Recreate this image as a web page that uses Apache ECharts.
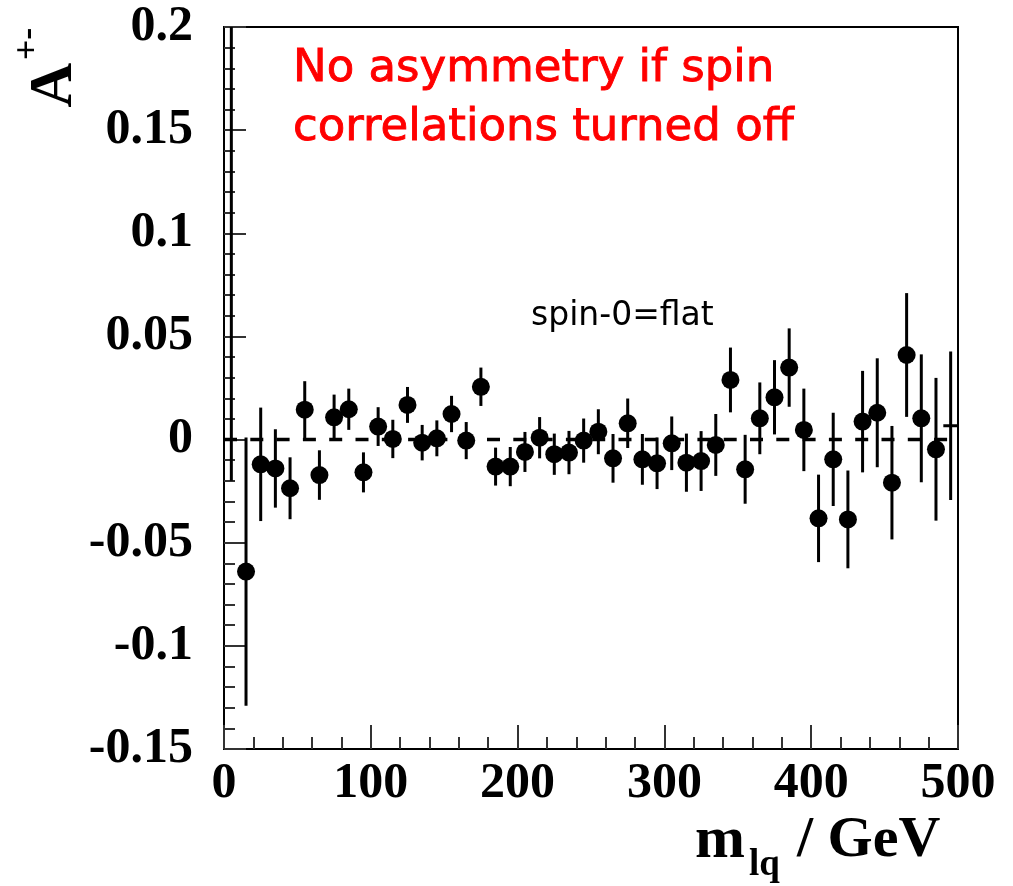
<!DOCTYPE html>
<html>
<head>
<meta charset="utf-8">
<script src="https://cdn.jsdelivr.net/npm/echarts@6/dist/echarts.min.js"></script>
<style>
html,body{margin:0;padding:0;background:#fff;}
#chart{width:1013px;height:886px;}
</style>
</head>
<body>
<div id="chart"></div>
<script>
// ---- data ----
const binCenters = [5,15,25,35,45,55,65,75,85,95,105,115,125,135,145,155,165,175,185,195,
  205,215,225,235,245,255,265,275,285,295,305,315,325,335,345,355,365,375,385,395,
  405,415,425,435,445,455,465,475,485,495];
const asymValues = [0.21,-0.064,-0.012,-0.014,-0.0236,0.0145,-0.0172,0.0108,0.0147,-0.0159,
  0.0063,0.0003,0.0168,-0.0015,0.0006,0.0124,-0.0005,0.0256,-0.0131,-0.0131,
  -0.006,0.0009,-0.0071,-0.0063,-0.0005,0.0038,-0.0091,0.0079,-0.0096,-0.0115,
  -0.0018,-0.0112,-0.0104,-0.0026,0.0289,-0.0144,0.0103,0.0205,0.0349,0.0047,
  -0.0382,-0.0096,-0.0387,0.0087,0.013,-0.0209,0.041,0.0103,-0.0047,0.0067];
const asymErrors = [0.23,0.065,0.0275,0.019,0.015,0.0138,0.012,0.011,0.010,0.0097,
  0.0094,0.0093,0.0087,0.0086,0.0087,0.0088,0.009,0.0093,0.0092,0.0095,
  0.0097,0.010,0.010,0.0105,0.0107,0.0109,0.0118,0.012,0.0123,0.0125,
  0.013,0.0141,0.0145,0.015,0.0157,0.0167,0.0174,0.018,0.019,0.020,
  0.0212,0.0226,0.0237,0.0246,0.0264,0.0275,0.030,0.031,0.0346,0.036];
const binHalfWidth = 5;
const noMarkerBins = [5, 495];
const referenceLine = [[0, 0], [500, 0]];
const xTickValues = [0, 100, 200, 300, 400, 500];
const xTickLabels = ['0', '100', '200', '300', '400', '500'];
const yTickValues = [-0.15, -0.1, -0.05, 0, 0.05, 0.1, 0.15, 0.2];
const yTickLabels = ['-0.15', '-0.1', '-0.05', '0', '0.05', '0.1', '0.15', '0.2'];
const annotation1 = ['No asymmetry if spin', 'correlations turned off'];
const annotation2 = 'spin-0=flat';

// ---- build ----
const X_MIN = 0, X_MAX = 500, Y_MIN = -0.15, Y_MAX = 0.2;
const errData = binCenters.map((x, i) => [x, asymValues[i], asymErrors[i]]);
const markerData = binCenters
  .map((x, i) => [x, asymValues[i]])
  .filter(d => noMarkerBins.indexOf(d[0]) < 0);

function lookup(vals, labels, v) {
  for (let i = 0; i < vals.length; i++) if (Math.abs(vals[i] - v) < 1e-9) return labels[i];
  return '';
}
const clampY = v => Math.max(Y_MIN, Math.min(Y_MAX, v));

const serifBold = { fontFamily: 'Liberation Serif', fontWeight: 'bold', color: '#000' };

const chart = echarts.init(document.getElementById('chart'), null, { renderer: 'canvas' });
chart.setOption({
  backgroundColor: '#fff',
  animation: false,
  grid: { left: 224, top: 27, right: 55, bottom: 137, show: true, borderColor: '#000', borderWidth: 2, containLabel: false },
  xAxis: {
    type: 'value', min: X_MIN, max: X_MAX, interval: 100,
    axisLine: { show: true, onZero: false, lineStyle: { color: '#000', width: 2 } },
    axisTick: { show: true, inside: true, length: 24, lineStyle: { color: '#333', width: 2 } },
    minorTick: { show: true, splitNumber: 5, length: 12, lineStyle: { color: '#333', width: 2 } },
    splitLine: { show: false },
    axisLabel: Object.assign({ fontSize: 50, margin: 10, formatter: v => lookup(xTickValues, xTickLabels, v) }, serifBold)
  },
  yAxis: {
    type: 'value', min: Y_MIN, max: Y_MAX, interval: 0.05,
    axisLine: { show: true, onZero: false, lineStyle: { color: '#000', width: 2 } },
    axisTick: { show: true, inside: true, length: 22, lineStyle: { color: '#333', width: 2 } },
    minorTick: { show: true, splitNumber: 5, length: 11, lineStyle: { color: '#333', width: 2 } },
    splitLine: { show: false },
    axisLabel: Object.assign({ fontSize: 50, margin: 31, formatter: v => lookup(yTickValues, yTickLabels, v) }, serifBold)
  },
  series: [
    {
      type: 'line', data: referenceLine, symbol: 'none', z: 1, silent: true,
      lineStyle: { color: '#000', width: 3.5, type: [13, 13.3], opacity: 1 }
    },
    {
      type: 'custom', data: errData, z: 2, silent: true,
      renderItem: function (params, api) {
        const x = api.value(0), y = api.value(1), e = api.value(2);
        const children = [];
        const top = api.coord([x, clampY(y + e)]);
        const bot = api.coord([x, clampY(y - e)]);
        children.push({ type: 'line', shape: { x1: top[0], y1: top[1], x2: bot[0], y2: bot[1] },
          style: { stroke: '#000', lineWidth: 3 } });
        if (y >= Y_MIN && y <= Y_MAX) {
          const l = api.coord([Math.max(X_MIN, x - binHalfWidth), y]);
          const r = api.coord([Math.min(X_MAX, x + binHalfWidth), y]);
          children.push({ type: 'line', shape: { x1: l[0], y1: l[1], x2: r[0], y2: r[1] },
            style: { stroke: '#000', lineWidth: 3 } });
        }
        return { type: 'group', children: children };
      }
    },
    {
      type: 'scatter', data: markerData, symbol: 'circle', symbolSize: 18, z: 3, silent: true,
      itemStyle: { color: '#000', opacity: 1 }
    }
  ],
  graphic: [
    { type: 'text', x: 293, y: 69, style: { text: annotation1[0], fill: '#ff0000', stroke: '#ff0000', lineWidth: 0.9, font: '45px "DejaVu Sans"', textAlign: 'left', textVerticalAlign: 'middle' } },
    { type: 'text', x: 293, y: 128, style: { text: annotation1[1], fill: '#ff0000', stroke: '#ff0000', lineWidth: 0.9, font: '45px "DejaVu Sans"', textAlign: 'left', textVerticalAlign: 'middle' } },
    { type: 'text', x: 531, y: 316, style: { text: annotation2, fill: '#000', font: '33px "DejaVu Sans"', textAlign: 'left', textVerticalAlign: 'middle' } },
    { type: 'text', x: 695, y: 841, style: { text: 'm', fill: '#000', font: 'bold 60px "Liberation Serif"', textAlign: 'left', textVerticalAlign: 'middle' } },
    { type: 'text', x: 749, y: 865, style: { text: 'lq', fill: '#000', font: 'bold 37px "Liberation Serif"', textAlign: 'left', textVerticalAlign: 'middle' } },
    { type: 'text', x: 797, y: 841, style: { text: '/ GeV', fill: '#000', font: 'bold 58px "Liberation Serif"', textAlign: 'left', textVerticalAlign: 'middle' } },
    { type: 'text', x: 55, y: 85, rotation: Math.PI / 2, style: { text: 'A', fill: '#000', font: 'bold 62px "Liberation Serif"', textAlign: 'center', textVerticalAlign: 'middle' } },
    { type: 'text', x: 29, y: 44, rotation: Math.PI / 2, style: { text: '+-', fill: '#000', font: 'bold 36px "Liberation Serif"', textAlign: 'center', textVerticalAlign: 'middle' } }
  ]
});
</script>
</body>
</html>
